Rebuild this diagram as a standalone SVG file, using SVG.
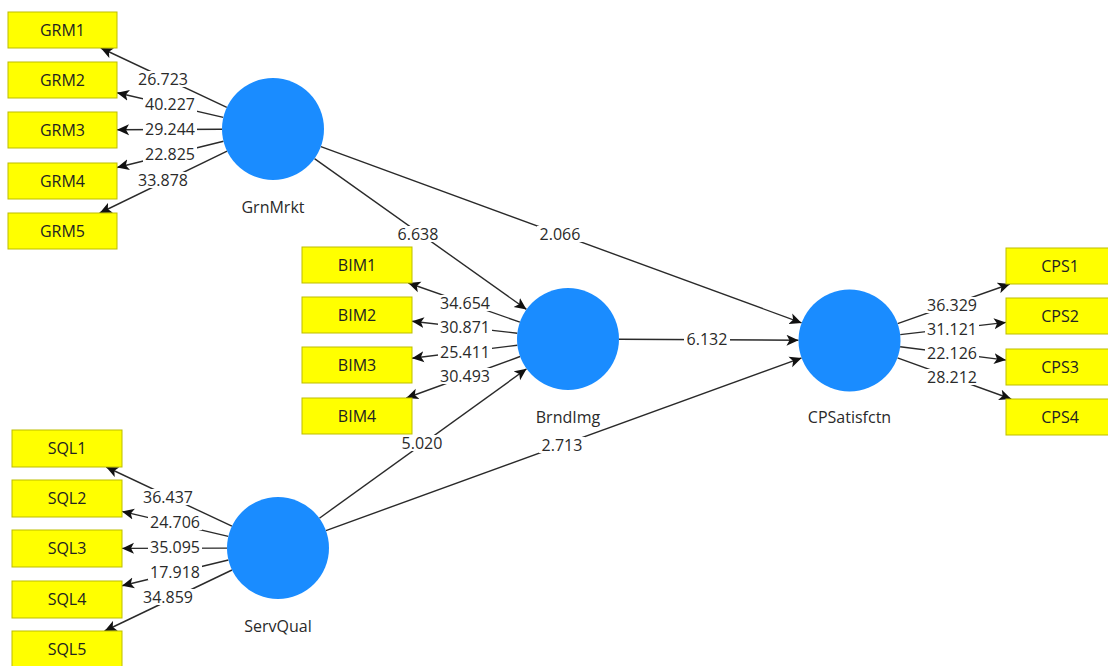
<svg xmlns="http://www.w3.org/2000/svg" width="1108" height="666" viewBox="0 0 1108 666">
  <defs>
    <marker id="arrow" viewBox="0 0 12 12" refX="12" refY="6" markerWidth="12" markerHeight="12" markerUnits="userSpaceOnUse" orient="auto">
      <path d="M0,0.5 L12,6 L0,11.5 L3,6 z" fill="#111"/>
    </marker>
    <style>
      .ind rect { fill: #ffff00; stroke: #bdbd00; stroke-width: 1; }
      .ind text { font-family: "Open Sans", "Noto Sans", sans-serif; font-size: 16px; fill: #222; text-anchor: middle; }
      .lat circle { fill: #1a8cff; }
      .lat text { font-family: "Open Sans", "Noto Sans", sans-serif; font-size: 16px; fill: #2a2a2a; text-anchor: middle; }
      .edges line { stroke: #2a2a2a; stroke-width: 1.4; marker-end: url(#arrow); }
      .lbl rect { fill: #ffffff; }
      .lbl text { font-family: "Open Sans", "Noto Sans", sans-serif; font-size: 16px; fill: #2a2a2a; text-anchor: middle; }
    </style>
  </defs>
  <rect x="0" y="0" width="1108" height="666" fill="#ffffff"/>

  <!-- connectors -->
  <g id="connectors" class="edges">
    <!-- GrnMrkt outer loadings -->
    <line x1="226.8" y1="107.3" x2="100.8" y2="48"/>
    <line x1="223.3" y1="117.4" x2="117" y2="92.7"/>
    <line x1="222" y1="129.2" x2="117" y2="129.7"/>
    <line x1="223.5" y1="141.2" x2="117" y2="167.5"/>
    <line x1="227.1" y1="151.2" x2="99.7" y2="213"/>
    <!-- BrndImg outer loadings -->
    <line x1="519.9" y1="322.1" x2="408.3" y2="283"/>
    <line x1="517.3" y1="333.2" x2="412" y2="321.3"/>
    <line x1="517.4" y1="345.2" x2="412" y2="358.2"/>
    <line x1="520.1" y1="356.5" x2="406.3" y2="398"/>
    <!-- CPSatisfctn outer loadings -->
    <line x1="897.6" y1="323.6" x2="1009.9" y2="284"/>
    <line x1="900.2" y1="334.6" x2="1006" y2="322.4"/>
    <line x1="900.1" y1="346.8" x2="1006" y2="360.1"/>
    <line x1="897.5" y1="357.8" x2="1011.2" y2="399"/>
    <!-- ServQual outer loadings -->
    <line x1="231.9" y1="526.2" x2="106.2" y2="467"/>
    <line x1="228.3" y1="536.4" x2="122" y2="511.4"/>
    <line x1="227" y1="548.1" x2="122" y2="548.4"/>
    <line x1="228.4" y1="560" x2="122" y2="585.7"/>
    <line x1="232" y1="570" x2="104.6" y2="631"/>
    <!-- structural paths -->
    <line x1="314.5" y1="158.6" x2="526.5" y2="309.4"/>
    <line x1="320.9" y1="146.6" x2="801.6" y2="322.9"/>
    <line x1="619" y1="339.3" x2="798.5" y2="340.2"/>
    <line x1="319.4" y1="518.2" x2="526.6" y2="368.8"/>
    <line x1="325.9" y1="530.6" x2="801.6" y2="357.9"/>
  </g>

  <!-- path coefficient / loading values -->
  <g id="values" class="lbl">
    <rect x="136" y="71" width="54" height="16"/><text x="163" y="84.5">26.723</text>
    <rect x="143" y="96" width="54" height="16"/><text x="170" y="109.5">40.227</text>
    <rect x="143" y="121" width="54" height="16"/><text x="170" y="134.5">29.244</text>
    <rect x="143" y="146" width="54" height="16"/><text x="170" y="159.5">22.825</text>
    <rect x="136" y="172" width="54" height="16"/><text x="163" y="185.5">33.878</text>

    <rect x="438" y="295" width="54" height="16"/><text x="465" y="308.5">34.654</text>
    <rect x="438" y="319" width="54" height="16"/><text x="465" y="332.5">30.871</text>
    <rect x="438" y="344" width="54" height="16"/><text x="465" y="357.5">25.411</text>
    <rect x="438" y="368" width="54" height="16"/><text x="465" y="381.5">30.493</text>

    <rect x="925" y="297" width="54" height="16"/><text x="952" y="310.5">36.329</text>
    <rect x="925" y="321" width="54" height="16"/><text x="952" y="334.5">31.121</text>
    <rect x="925" y="345" width="54" height="16"/><text x="952" y="358.5">22.126</text>
    <rect x="925" y="369" width="54" height="16"/><text x="952" y="382.5">28.212</text>

    <rect x="141" y="489" width="54" height="16"/><text x="168" y="502.5">36.437</text>
    <rect x="148" y="514" width="54" height="16"/><text x="175" y="527.5">24.706</text>
    <rect x="148" y="539" width="54" height="16"/><text x="175" y="552.5">35.095</text>
    <rect x="148" y="564" width="54" height="16"/><text x="175" y="577.5">17.918</text>
    <rect x="141" y="589" width="54" height="16"/><text x="168" y="602.5">34.859</text>

    <rect x="395" y="226" width="46" height="16"/><text x="418" y="239.5">6.638</text>
    <rect x="537" y="226" width="46" height="16"/><text x="560" y="239.5">2.066</text>
    <rect x="684" y="331" width="46" height="16"/><text x="707" y="344.5">6.132</text>
    <rect x="399" y="435" width="46" height="16"/><text x="422" y="448.5">5.020</text>
    <rect x="539" y="437" width="46" height="16"/><text x="562" y="450.5">2.713</text>
  </g>

  <!-- latent variables -->
  <g id="GrnMrkt" class="lat"><circle cx="273" cy="129" r="51"/><text x="273" y="213">GrnMrkt</text></g>
  <g id="BrndImg" class="lat"><circle cx="568" cy="339" r="51"/><text x="568" y="423">BrndImg</text></g>
  <g id="CPSatisfctn" class="lat"><circle cx="849.5" cy="340.5" r="51"/><text x="849.5" y="423">CPSatisfctn</text></g>
  <g id="ServQual" class="lat"><circle cx="278" cy="548" r="51"/><text x="278" y="632">ServQual</text></g>

  <!-- indicators -->
  <g id="GRM1" class="ind"><rect x="8" y="12" width="109" height="36"/><text x="62.5" y="35.5">GRM1</text></g>
  <g id="GRM2" class="ind"><rect x="8" y="62" width="109" height="36"/><text x="62.5" y="85.5">GRM2</text></g>
  <g id="GRM3" class="ind"><rect x="8" y="112" width="109" height="36"/><text x="62.5" y="135.5">GRM3</text></g>
  <g id="GRM4" class="ind"><rect x="8" y="163" width="109" height="36"/><text x="62.5" y="186.5">GRM4</text></g>
  <g id="GRM5" class="ind"><rect x="8" y="213" width="109" height="36"/><text x="62.5" y="236.5">GRM5</text></g>

  <g id="BIM1" class="ind"><rect x="302" y="247" width="110" height="36"/><text x="357" y="270.5">BIM1</text></g>
  <g id="BIM2" class="ind"><rect x="302" y="297" width="110" height="36"/><text x="357" y="320.5">BIM2</text></g>
  <g id="BIM3" class="ind"><rect x="302" y="347" width="110" height="36"/><text x="357" y="370.5">BIM3</text></g>
  <g id="BIM4" class="ind"><rect x="302" y="398" width="110" height="36"/><text x="357" y="421.5">BIM4</text></g>

  <g id="CPS1" class="ind"><rect x="1006" y="248" width="110" height="36"/><text x="1060" y="271.5">CPS1</text></g>
  <g id="CPS2" class="ind"><rect x="1006" y="298" width="110" height="36"/><text x="1060" y="321.5">CPS2</text></g>
  <g id="CPS3" class="ind"><rect x="1006" y="349" width="110" height="36"/><text x="1060" y="372.5">CPS3</text></g>
  <g id="CPS4" class="ind"><rect x="1006" y="399" width="110" height="36"/><text x="1060" y="422.5">CPS4</text></g>

  <g id="SQL1" class="ind"><rect x="12" y="430" width="110" height="37"/><text x="67" y="454">SQL1</text></g>
  <g id="SQL2" class="ind"><rect x="12" y="480" width="110" height="37"/><text x="67" y="504">SQL2</text></g>
  <g id="SQL3" class="ind"><rect x="12" y="530" width="110" height="37"/><text x="67" y="554">SQL3</text></g>
  <g id="SQL4" class="ind"><rect x="12" y="581" width="110" height="37"/><text x="67" y="605">SQL4</text></g>
  <g id="SQL5" class="ind"><rect x="12" y="631" width="110" height="37"/><text x="67" y="655">SQL5</text></g>
</svg>
